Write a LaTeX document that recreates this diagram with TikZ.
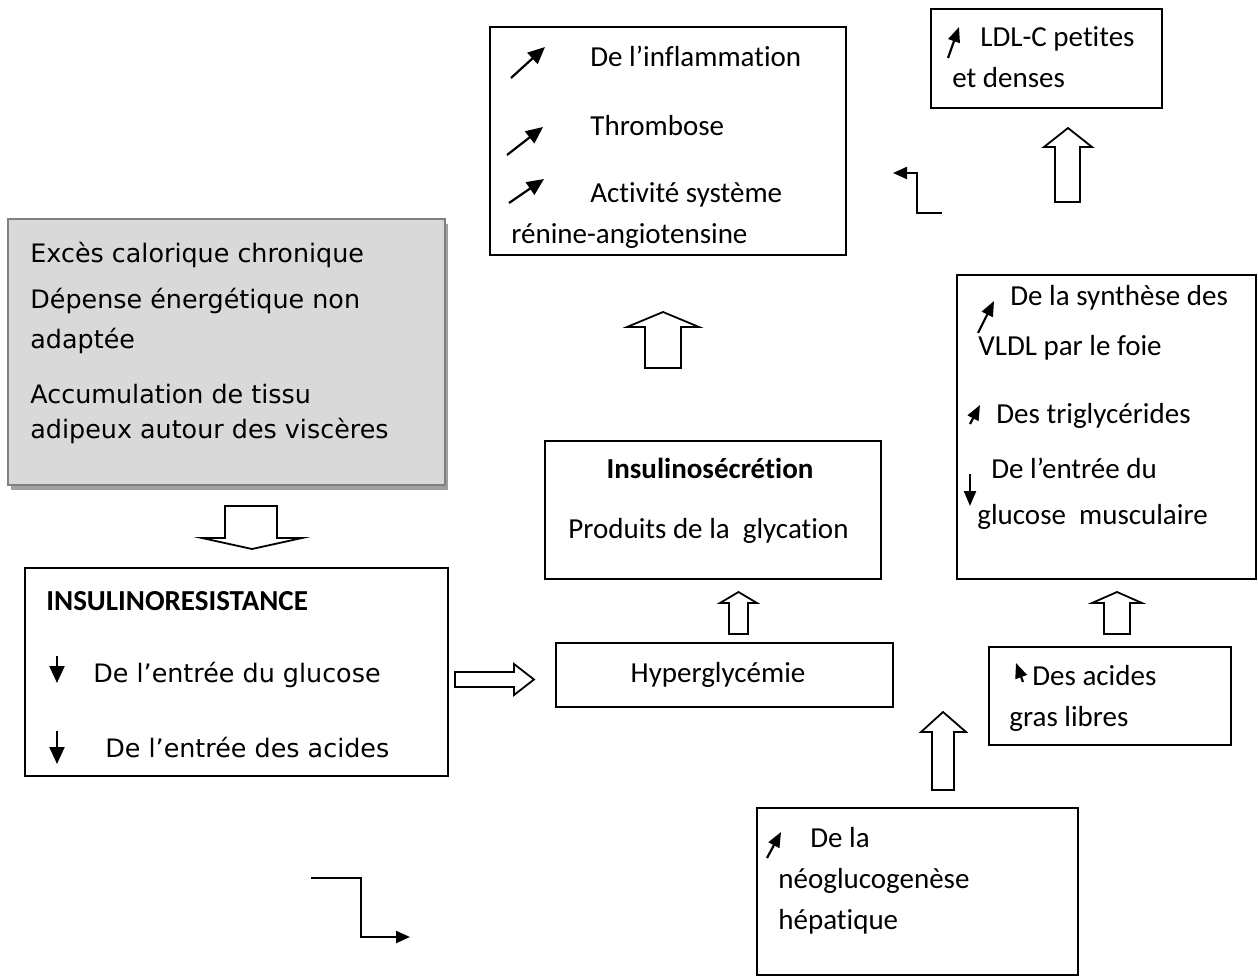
\documentclass[tikz,border=0pt]{standalone}
\usepackage{fontspec}
\setmainfont{Carlito}[Ligatures=NoCommon]
\newfontfamily\verdfont{DejaVu Sans}
\usetikzlibrary{arrows.meta,fit,shadows}
\definecolor{greyfill}{RGB}{217,217,217}
\definecolor{greyline}{RGB}{128,128,128}
\definecolor{greyshade}{RGB}{160,160,160}

\begin{document}
\begin{tikzpicture}[x=0.5pt,y=-0.5pt,
  box/.style={draw,line width=1pt,inner sep=0pt,fill=white},
  txt/.style={inner sep=0pt,anchor=base west,font=\fontsize{14.5}{17}\selectfont},
  vtxt/.style={inner sep=0pt,anchor=base west,font=\verdfont\fontsize{12.7}{15}\selectfont},
  tinyarr/.style={-{Triangle[length=7.5pt,width=6pt]},line width=1.1pt},
  bigarr/.style={-{Triangle[length=8.5pt,width=7.5pt]},line width=1.1pt},
  blk/.style={draw,line width=0.9pt,fill=white,line join=miter},
  bent/.style={-{Triangle[length=7pt,width=6pt]},line width=1.1pt}]
\useasboundingbox (0,0) rectangle (1258,979);

% causes
\node (cause) [draw=greyline,line width=0.6pt,fill=greyfill,inner sep=0pt,
  drop shadow={shadow xshift=1.5pt,shadow yshift=-2.5pt,fill=greyshade,opacity=1},
  fit={(8,219) (445,485)}] {};
\node (causea) [vtxt] at (30,262) {Excès calorique chronique};
\node (causeb) [vtxt] at (30,308) {Dépense énergétique non};
\node (causec) [vtxt] at (30,348) {adaptée};
\node (caused) [vtxt] at (30,403) {Accumulation de tissu};
\node (causee) [vtxt] at (30,438) {adipeux autour des viscères};

% insulinoresistance
\node (ir) [box,fit={(25,568) (448,776)}] {};
\node (irt) [txt,font=\fontsize{14.5}{17}\selectfont\bfseries] at (46,610) {INSULINORESISTANCE};
\node (ira) [vtxt] at (93,682) {De l’entrée du glucose};
\node (irb) [vtxt] at (105,757) {De l’entrée des acides};
\draw [bigarr] (57,656) -- (57,683);
\draw [bigarr] (57,731) -- (57,764);

% hyperglycemie
\node (hyp) [box,fit={(556,643) (893,707)}] {};
\node (hypt) [txt,anchor=base] at (718,682) {Hyperglycémie};

% insulinosecretion
\node (sec) [box,fit={(545,441) (881,579)}] {};
\node (sect) [txt,anchor=base,font=\fontsize{14.5}{17}\selectfont\bfseries] at (710,478) {Insulinosécrétion};
\node (secb) [txt] at (568,538) {Produits de la\ \ glycation};

% inflammation
\node (inf) [box,fit={(490,27) (846,255)}] {};
\node (infa) [txt] at (590,67) {De l’inflammation};
\node (infb) [txt] at (590,135) {Thrombose};
\node (infc) [txt] at (590,202) {Activité système};
\node (infd) [txt] at (511,243) {rénine-angiotensine};
\draw [bigarr] (511,78) -- (545,47);
\draw [bigarr] (507,155) -- (543,127);
\draw [bigarr] (509,203) -- (544,179);

% LDL
\node (ldl) [box,fit={(931,9) (1162,108)}] {};
\node (ldla) [txt] at (980,47) {LDL-C petites};
\node (ldlb) [txt] at (952,88) {et denses};
\draw [tinyarr] (948,58) -- (959,27);

% VLDL
\node (vldl) [box,fit={(957,275) (1256,579)}] {};
\node (vldla) [txt] at (1010,305) {De la synthèse des};
\node (vldlb) [txt] at (978,355) {VLDL par le foie};
\node (vldlc) [txt] at (996,423) {Des triglycérides};
\node (vldld) [txt] at (991,478) {De l’entrée du};
\node (vldle) [txt] at (977,524) {glucose\ \ musculaire};
\draw [tinyarr] (978,333) -- (994,301);
\draw [tinyarr] (970,424) -- (980,405);
\draw [tinyarr] (970,474) -- (970,506);

% acides gras libres
\node (agl) [box,fit={(989,647) (1231,745)}] {};
\node (agla) [txt] at (1032,685) {Des acides};
\node (aglb) [txt] at (1009,726) {gras libres};
\draw [tinyarr] (1023,682) -- (1016,663);

% neoglucogenese
\node (neo) [box,fit={(757,808) (1078,975)}] {};
\node (neoa) [txt] at (810,847) {De la};
\node (neob) [txt] at (778,888) {néoglucogenèse};
\node (neoc) [txt] at (778,929) {hépatique};
\draw [tinyarr] (767,858) -- (781,832);

% block arrows
\draw [blk] (225,506) -- (277,506) -- (277,538) -- (302,538) -- (252,549) -- (202,538) -- (225,538) -- cycle;
\draw [blk] (455,672) -- (514,672) -- (514,664) -- (534,679.5) -- (514,695) -- (514,687) -- (455,687) -- cycle;
\draw [blk] (729,634) -- (729,603) -- (720,603) -- (738.5,592) -- (757,603) -- (748,603) -- (748,634) -- cycle;
\draw [blk] (645,368) -- (645,327) -- (627,327) -- (663,312) -- (699,327) -- (681,327) -- (681,368) -- cycle;
\draw [blk] (932,790) -- (932,732) -- (921,732) -- (943,712) -- (966,732) -- (954,732) -- (954,790) -- cycle;
\draw [blk] (1104,634) -- (1104,603) -- (1092,603) -- (1117,592) -- (1142,603) -- (1130,603) -- (1130,634) -- cycle;
\draw [blk] (1055,202) -- (1055,147) -- (1044,147) -- (1068,128) -- (1092,147) -- (1080,147) -- (1080,202) -- cycle;

% bent arrows
\coordinate (ka) at (942,213);
\coordinate (kb) at (893,173);
\draw [bent] (ka) -- (917,213) |- (kb);
\coordinate (kc) at (311,878);
\coordinate (kd) at (410,937);
\draw [bent] (kc) -- (361,878) |- (kd);
\end{tikzpicture}
\end{document}
